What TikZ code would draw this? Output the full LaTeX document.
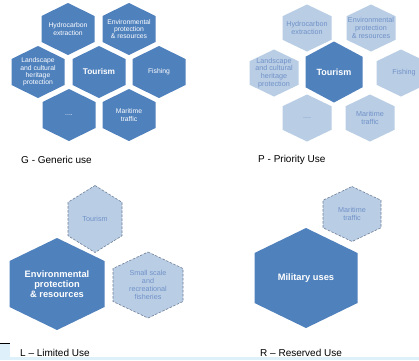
\documentclass[tikz,border=0pt]{standalone}
\usepackage{fontspec}
\setmainfont{Liberation Sans}

\definecolor{hexblue}{RGB}{79,129,189}
\definecolor{hexpale}{RGB}{185,205,229}
\definecolor{hexedge}{RGB}{112,128,152}
\definecolor{paletext}{RGB}{112,146,200}
\definecolor{stripblue}{RGB}{222,240,250}

% hexagon (pointy top) with a named text node in its middle
% #1 name, #2 fill style, #3 text style, #4 cx, #5 cy, #6 width, #7 height, #8 text
\newcommand{\hexcell}[8]{%
  \path[#2] ({#4},{#5-0.5*#7}) -- ({#4+0.5*#6},{#5-0.25*#7}) -- ({#4+0.5*#6},{#5+0.25*#7})
    -- ({#4},{#5+0.5*#7}) -- ({#4-0.5*#6},{#5+0.25*#7}) -- ({#4-0.5*#6},{#5-0.25*#7}) -- cycle;
  \node[#3] (#1) at (#4,#5) {#8};}

\begin{document}
\begin{tikzpicture}[x=1pt,y=-1pt,
  hexdark/.style={fill=hexblue},
  hexpale/.style={fill=hexpale},
  hexdash/.style={fill=hexpale,draw=hexedge,line width=0.6pt,dash pattern=on 2.5pt off 1.5pt},
  celltext/.style={align=center,inner sep=0pt,text=white,font=\fontsize{6.8}{7.2}\selectfont},
  palecell/.style={celltext,text=paletext,font=\fontsize{7.2}{7.8}\selectfont},
  boldcell/.style={celltext,font=\bfseries\fontsize{8.3}{9.5}\selectfont},
  bigcell/.style={celltext,font=\bfseries\fontsize{9.3}{10}\selectfont},
  caption/.style={anchor=west,inner sep=0pt,font=\fontsize{10}{12}\selectfont}]
\clip (0,0) rectangle (419,360);
\fill[white] (0,0) rectangle (419,360);

% G - generic use
\hexcell{ghydro}{hexdark}{celltext}{68}{29}{53}{52}{Hydrocarbon\\extraction}
\hexcell{genv}{hexdark}{celltext}{129}{29}{53}{52}{Environmental\\protection\\\& resources}
\hexcell{gland}{hexdark}{celltext}{38}{72}{53}{52}{Landscape\\and cultural\\heritage\\protection}
\hexcell{gtour}{hexdark}{boldcell}{99}{72}{53}{52}{Tourism}
\hexcell{gfish}{hexdark}{celltext}{159}{72}{53}{52}{Fishing}
\hexcell{gdots}{hexdark}{celltext}{69}{115}{53}{52}{....}
\hexcell{gmar}{hexdark}{celltext}{129}{115}{53}{52}{Maritime\\traffic}
\node[caption] (glabel) at (21,160) {G - Generic use};

% P - priority use
\hexcell{phydro}{hexpale}{palecell}{307}{28}{49}{47}{Hydrocarbon\\extraction}
\hexcell{penv}{hexpale}{palecell}{371}{28}{49}{47}{Environmental\\protection\\\& resources}
\hexcell{pland}{hexpale}{palecell}{274}{73}{49}{47}{Landscape\\and cultural\\heritage\\protection}
\hexcell{pfish}{hexpale}{palecell}{401}{73}{49}{47}{\hspace*{6pt}Fishing}
\hexcell{pdots}{hexpale}{palecell}{307}{118}{49}{47}{....}
\hexcell{pmar}{hexpale}{palecell}{370}{118}{49}{47}{Maritime\\traffic}
\hexcell{ptour}{hexdark}{boldcell,font=\bfseries\fontsize{9}{10}\selectfont}{334}{72}{57}{61}{Tourism}
\node[caption] (plabel) at (258,160) {P - Priority Use};

% L - limited use
\hexcell{ltour}{hexdash}{palecell}{95}{219}{54}{67}{Tourism}
\hexcell{lenv}{hexdark}{bigcell}{57}{284}{95}{92}{Environmental\\protection\\\& resources}
\hexcell{lsmall}{hexdash}{palecell}{148}{285}{70}{66}{Small scale\\and\\recreational\\fisheries}
\node[caption] (llabel) at (20,353) {L -- Limited Use};

% R - reserved use
\hexcell{rmar}{hexdash}{palecell}{352}{214}{58}{55}{Maritime\\traffic}
\hexcell{rmil}{hexdark}{bigcell}{306}{278}{103}{100}{Military uses}
\node[caption] (rlabel) at (260,353) {R -- Reserved Use};

% page edge left over from the screenshot
\fill[stripblue] (0,357) rectangle (419,360);
\fill[stripblue] (0,343) rectangle (10,360);
\draw[black,line width=0.8pt] (0,343) -- (10,343);
\end{tikzpicture}
\end{document}
